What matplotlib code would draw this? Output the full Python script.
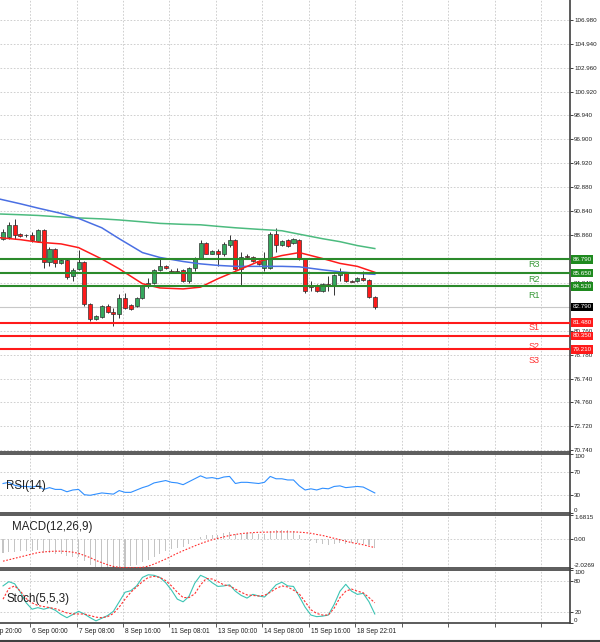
import matplotlib
matplotlib.use("Agg")
import matplotlib.pyplot as plt
from matplotlib.lines import Line2D

# ---- candles (4H bars) ----
opens = [88.54, 88.71, 89.71, 88.96, 88.87, 88.87, 88.37, 89.29, 86.54, 87.71,
         86.46, 86.71, 85.37, 85.96, 86.54, 83.04, 81.79, 81.96, 82.87, 82.37,
         82.21, 83.54, 82.96, 82.87, 83.54, 84.54, 84.79, 85.87, 86.21, 85.79,
         85.79, 85.87, 84.96, 86.04, 86.87, 88.21, 87.29, 87.54, 87.21, 88.04,
         88.46, 85.96, 87.04, 87.04, 86.62, 86.04, 86.04, 88.96, 88.04, 88.46,
         88.21, 88.46, 86.79, 84.62, 84.62, 84.12, 84.71, 84.54, 85.46, 85.62,
         84.96, 84.96, 85.21, 85.04, 83.62]
closes = [89.12, 89.71, 88.87, 88.79, 88.83, 88.46, 89.29, 86.54, 87.71, 86.46,
          86.71, 85.29, 85.87, 86.54, 83.04, 81.79, 82.04, 82.87, 82.37, 82.21,
          83.54, 82.71, 82.62, 83.54, 84.54, 84.79, 85.87, 86.21, 86.04, 85.75,
          85.75, 84.96, 86.04, 86.87, 88.21, 87.29, 87.54, 87.21, 88.12, 88.46,
          85.96, 86.96, 87.00, 86.62, 86.37, 86.79, 88.96, 88.04, 88.37, 87.96,
          88.54, 86.79, 84.12, 84.46, 84.12, 84.71, 84.54, 85.46, 85.62, 84.96,
          84.92, 85.21, 85.04, 83.62, 82.79]
highs = [89.37, 89.96, 90.21, 89.04, 88.96, 89.12, 89.37, 89.37, 87.87, 87.79,
         86.79, 86.79, 86.04, 87.62, 86.62, 83.12, 82.12, 82.96, 83.04, 82.71,
         83.87, 83.96, 83.04, 83.62, 84.62, 85.21, 85.96, 87.04, 86.29, 85.96,
         86.04, 85.96, 86.12, 87.04, 88.46, 88.29, 87.62, 87.71, 88.29, 88.87,
         88.54, 87.46, 87.21, 87.12, 86.71, 87.46, 89.12, 89.46, 88.46, 88.54,
         88.62, 88.54, 86.87, 84.96, 84.71, 84.79, 85.37, 85.54, 86.04, 85.71,
         85.04, 85.29, 85.79, 85.12, 83.71]
lows = [88.46, 88.54, 88.54, 88.71, 88.71, 88.29, 88.29, 86.04, 86.21, 86.12,
        86.37, 85.12, 84.96, 85.87, 82.87, 81.62, 81.71, 81.87, 82.29, 81.21,
        81.87, 82.62, 82.54, 82.79, 83.46, 84.37, 84.71, 85.79, 85.96, 85.71,
        85.62, 84.87, 84.79, 85.79, 86.79, 87.21, 87.21, 86.21, 87.12, 87.87,
        85.87, 84.54, 86.87, 86.54, 86.29, 85.79, 85.96, 87.46, 87.96, 87.87,
        88.12, 86.71, 83.96, 84.12, 84.04, 84.04, 84.12, 83.79, 84.96, 84.87,
        84.87, 84.87, 84.96, 83.54, 82.62]

# ---- moving averages, read at these bars ----
ma_idx = [-0.5, 3, 6, 10, 13, 17, 20, 24, 27, 31, 34, 37, 40, 44, 48, 51, 55, 58, 61, 64]
ma_blue = [91.87, 91.48, 91.12, 90.67, 90.25, 89.46, 88.54, 87.37, 86.96, 86.62,
           86.42, 86.29, 86.21, 86.21, 86.21, 86.17, 85.92, 85.75, 85.62, 85.54]
ma_green = [90.62, 90.56, 90.50, 90.37, 90.29, 90.21, 90.12, 89.96, 89.83, 89.75,
            89.71, 89.58, 89.46, 89.33, 89.21, 88.92, 88.54, 88.29, 87.96, 87.71]
ma_red = [88.62, 88.46, 88.25, 88.10, 87.79, 86.83, 86.00, 84.75, 84.39, 84.31,
          84.46, 85.17, 85.79, 86.62, 87.12, 87.37, 86.87, 86.46, 86.21, 85.71]

# ---- pivot levels ----
res_levels = [86.79, 85.65, 84.52]
res_names = ["R3", "R2", "R1"]
res_label_y = [86.37, 85.12, 83.79]
sup_levels = [81.48, 80.35, 79.21]
sup_names = ["S1", "S2", "S3"]
sup_label_y = [81.04, 79.46, 78.29]
last_price = 82.79

price_ticks = [106.98, 104.94, 102.96, 100.92, 98.94, 96.90, 94.92, 92.88, 90.84,
               88.86, 86.82, 84.84, 82.80, 80.76, 78.78, 76.74, 74.76, 72.72, 70.74]
# labels that sit fully under a price box are not shown
hidden_ticks = [86.82, 82.80]

# ---- indicators ----
rsi = [50, 52, 47, 45, 45, 44, 46, 40, 43, 40,
       40, 36, 39, 40, 31, 30, 32, 34, 33, 32,
       38, 35, 35, 39, 43, 46, 51, 53, 55, 52,
       51, 48, 53, 58, 63, 59, 60, 58, 61, 62,
       50, 52, 52, 51, 50, 52, 62, 58, 58, 56,
       56, 46, 39, 41, 39, 42, 41, 45, 46, 43,
       44, 45, 44, 39, 34]
macd_main = [-0.95, -0.9, -0.9, -0.85, -0.85, -0.85, -0.8, -0.95, -0.95, -1.05,
             -1.05, -1.2, -1.25, -1.25, -1.55, -1.8, -1.95, -2.0, -2.0, -2.02,
             -1.95, -1.95, -1.9, -1.8, -1.6, -1.45, -1.25, -1.05, -0.85, -0.7,
             -0.6, -0.55, -0.35, -0.1, 0.15, 0.25, 0.3, 0.3, 0.4, 0.5,
             0.35, 0.35, 0.4, 0.4, 0.35, 0.35, 0.55, 0.6, 0.6, 0.6,
             0.55, 0.3, -0.05, -0.15, -0.3, -0.35, -0.4, -0.35, -0.3, -0.35,
             -0.3, -0.3, -0.35, -0.45, -0.65]
macd_signal = [-1.55, -1.45, -1.35, -1.25, -1.15, -1.05, -0.95, -0.9, -0.87, -0.85,
               -0.85, -0.87, -0.92, -1.0, -1.15, -1.3, -1.5, -1.65, -1.8, -1.92,
               -1.98, -2.0, -2.01, -2.01, -1.98, -1.9, -1.75, -1.58, -1.4, -1.2,
               -1.0, -0.82, -0.65, -0.48, -0.32, -0.18, -0.05, 0.05, 0.15, 0.25,
               0.32, 0.38, 0.42, 0.45, 0.47, 0.48, 0.49, 0.5, 0.5, 0.5,
               0.5, 0.48, 0.45, 0.4, 0.32, 0.25, 0.15, 0.05, -0.05, -0.15,
               -0.25, -0.32, -0.4, -0.5, -0.6]
stoch_k = [70, 78, 74, 58, 38, 26, 29, 26, 29, 24,
           16, 10, 16, 22, 17, 10, 4, 9, 14, 22,
           40, 58, 61, 70, 86, 91, 90, 86, 76, 62,
           45, 40, 50, 75, 90, 85, 76, 69, 70, 72,
           60, 52, 47, 54, 51, 49, 60, 72, 77, 70,
           69, 50, 30, 15, 12, 13, 15, 35, 60, 73,
           60, 54, 56, 40, 17]
stoch_d = [45, 65, 70, 60, 46, 38, 33, 31, 29, 27,
           23, 19, 17, 17, 17, 14, 11, 10, 12, 18,
           30, 45, 58, 68, 78, 86, 88, 86, 80, 70,
           58, 48, 48, 55, 72, 84, 83, 78, 72, 70,
           64, 58, 53, 52, 51, 52, 58, 65, 70, 68,
           62, 55, 40, 25, 18, 15, 15, 28, 48, 60,
           64, 60, 57, 48, 38]

date_labels = ["5 Sep 20:00", "6 Sep 00:00", "7 Sep 08:00", "8 Sep 16:00", "11 Sep 08:01",
               "13 Sep 00:00", "14 Sep 08:00", "15 Sep 16:00", "18 Sep 22:01"]

plt.rcParams["font.family"] = ["Liberation Sans", "DejaVu Sans"]

GRID = dict(color="#c8c8c8", linestyle=(0, (2, 2)), linewidth=0.6)
BORDER = "#404040"
GREEN_LVL = "#2b8a2b"
RED_LVL = "#ff1a1a"
W, H = 600, 642

fig = plt.figure(figsize=(W / 100, H / 100), dpi=100)


def add_panel(top, bottom):
    return fig.add_axes([0, 1 - bottom / H, 570 / W, (bottom - top) / H])


ax = add_panel(0, 452)
ax_rsi = add_panel(454, 513)
ax_macd = add_panel(515, 568)
ax_st = add_panel(570, 623)

# vertical grid every 8 bars (date tick positions)
grid_idx = [4.65 + 8 * k for k in range(12)]
label_idx = [4.65 + 8 * k for k in range(-1, len(date_labels) - 1)]

for a in (ax, ax_rsi, ax_macd, ax_st):
    a.set_xlim(-0.52, 97.6)
    a.spines["left"].set_visible(False)
    for s in ("top", "bottom", "right"):
        a.spines[s].set_color(BORDER)
        a.spines[s].set_linewidth(1.2)
    a.yaxis.tick_right()
    a.tick_params(axis="y", labelsize=4.5, length=2, width=0.6, pad=1,
                  colors="#202020")
    a.set_xticks(grid_idx)
    a.tick_params(axis="x", length=0, labelbottom=False)
    a.grid(True, **GRID)
    a.set_axisbelow(True)
ax.spines["top"].set_visible(False)

# ---- main price panel ----
ax.set_ylim(70.57, 108.65)
ax.set_yticks(price_ticks)
ax.set_yticklabels(["" if t in hidden_ticks else f"{t:.3f}" for t in price_ticks])

idx = list(range(len(opens)))
bottoms = [min(o, c) for o, c in zip(opens, closes)]
heights = [max(abs(c - o), 0.06) for o, c in zip(opens, closes)]
colors = ["#36a85e" if c >= o else "#ff1a1a" for o, c in zip(opens, closes)]
ax.vlines(idx, lows, highs, color="#333333", linewidth=0.7, zorder=3)
ax.bar(idx, heights, bottom=bottoms, width=0.7, color=colors,
       edgecolor="#333333", linewidth=0.5, zorder=4)

ax.plot(ma_idx, ma_green, color="#4cbb7f", linewidth=1.1, zorder=5)
ax.plot(ma_idx, ma_blue, color="#4a6fe3", linewidth=1.1, zorder=5)
ax.plot(ma_idx, ma_red, color="#ff1a1a", linewidth=1.1, zorder=5)

ax.axhline(last_price, color="#c8c8c8", linewidth=0.8, zorder=2)

BOX = dict(edgecolor="none", pad=1.2)
for lvl, name, ly in zip(res_levels, res_names, res_label_y):
    ax.axhline(lvl, color=GREEN_LVL, linewidth=1.5, zorder=6)
    ax.text(91.4, ly, name, color="#3a9a3a", fontsize=6.5, ha="center",
            va="center", zorder=6)
    ax.text(1.004, lvl, f"{lvl:.3f}", transform=ax.get_yaxis_transform(),
            color="white", fontsize=4.5, va="center", ha="left", zorder=7,
            clip_on=False, bbox=dict(facecolor="#1f8a1f", **BOX))
for lvl, name, ly in zip(sup_levels, sup_names, sup_label_y):
    ax.axhline(lvl, color=RED_LVL, linewidth=1.5, zorder=6)
    ax.text(91.4, ly, name, color="#ff3030", fontsize=6.5, ha="center",
            va="center", zorder=6)
    ax.text(1.004, lvl, f"{lvl:.3f}", transform=ax.get_yaxis_transform(),
            color="white", fontsize=4.5, va="center", ha="left", zorder=7,
            clip_on=False, bbox=dict(facecolor="#ff1a1a", **BOX))
ax.text(1.004, last_price, f"{last_price:.3f}", transform=ax.get_yaxis_transform(),
        color="white", fontsize=4.5, va="center", ha="left", zorder=7,
        clip_on=False, bbox=dict(facecolor="black", **BOX))


def edge_labels(a, ticks, labels):
    a.set_yticks(ticks)
    a.set_yticklabels(labels)
    ticks_obj = a.yaxis.get_major_ticks()
    ticks_obj[0].label2.set_va("top")
    ticks_obj[-1].label2.set_va("bottom")
    a.yaxis.grid(False)
    for t in ticks[1:-1]:
        a.axhline(t, **GRID, zorder=0)


# ---- RSI ----
ax_rsi.set_ylim(0, 100)
edge_labels(ax_rsi, [100, 70, 30, 0], ["100", "70", "30", "0"])
ax_rsi.plot(idx, rsi, color="#2f8fff", linewidth=0.8)
ax_rsi.text(0.011, 0.45, "RSI(14)", transform=ax_rsi.transAxes, fontsize=8.3,
            color="#202020", va="center", ha="left")

# ---- MACD ----
ax_macd.set_ylim(-2.0269, 1.6815)
edge_labels(ax_macd, [1.6815, 0.0, -2.0269], ["1.6815", "0.00", "-2.0269"])
ax_macd.bar(idx, macd_main, width=0.18, color="#c4c4c4", zorder=2)
ax_macd.plot(idx, macd_signal, color="#ff2a2a", linewidth=0.8,
             linestyle=(0, (1.5, 1.5)), zorder=3)
ax_macd.text(0.021, 0.78, "MACD(12,26,9)", transform=ax_macd.transAxes,
             fontsize=8.3, color="#202020", va="center", ha="left")

# ---- Stochastic ----
ax_st.set_ylim(0, 100)
edge_labels(ax_st, [100, 80, 20, 0], ["100", "80", "20", "0"])
ax_st.plot(idx, stoch_k, color="#3cc4b4", linewidth=0.8, zorder=3)
ax_st.plot(idx, stoch_d, color="#ff3030", linewidth=0.8,
           linestyle=(0, (2, 1.5)), zorder=3)
ax_st.text(0.011, 0.45, "Stoch(5,5,3)", transform=ax_st.transAxes,
           fontsize=8.3, color="#202020", va="center", ha="left")

ax_st.tick_params(axis="x", length=3, width=0.6, direction="out", colors="#404040")
for pos, lab in zip(label_idx, date_labels):
    ax_st.text(pos + 0.35, -0.09, lab, transform=ax_st.get_xaxis_transform(),
               fontsize=4.8, color="#202020", ha="left", va="top", clip_on=False)

fig.add_artist(Line2D([0, 1], [1.5 / H, 1.5 / H], color=BORDER, linewidth=1.5))

fig.savefig("out.png", dpi=100)
